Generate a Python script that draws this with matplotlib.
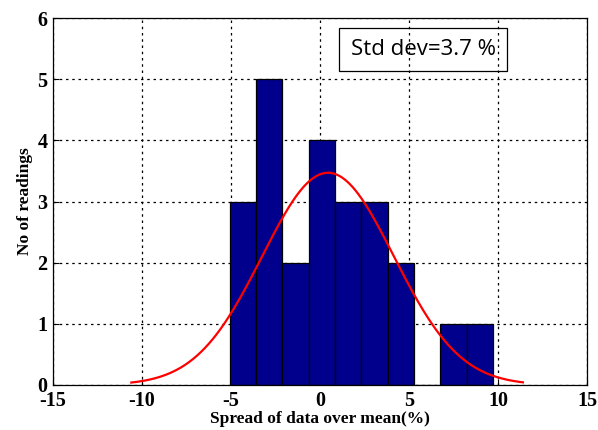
import numpy as np
import matplotlib

matplotlib.use("Agg")
import matplotlib.pyplot as plt

plt.rcParams["axes.unicode_minus"] = False

# histogram of spread over mean (%)
bin_edges = [-5.06, -3.58, -2.11, -0.63, 0.85, 2.32, 3.80, 5.28, 6.76, 8.24, 9.72]
counts = [3, 5, 2, 4, 3, 3, 2, 0, 1, 1]

# fitted normal curve, parameters
fit_mean = 0.45
fit_std = 3.7
fit_peak = 3.47
fit_range = (-10.6, 11.4)

x_ticks = [-15, -10, -5, 0, 5, 10, 15]
y_ticks = [0, 1, 2, 3, 4, 5, 6]

fig = plt.figure(figsize=(5.98, 4.30), dpi=100)
ax = fig.add_axes([53 / 598, 45 / 430, 534 / 598, 367 / 430])

widths = np.diff(bin_edges)
ax.bar(bin_edges[:-1], counts, width=widths, align="edge",
       color="#00008C", edgecolor="black", linewidth=0.9, zorder=2)

xs = np.linspace(fit_range[0], fit_range[1], 300)
ys = fit_peak * np.exp(-((xs - fit_mean) ** 2) / (2 * fit_std ** 2))
ax.plot(xs, ys, color="red", linewidth=1.6, zorder=3)

ax.set_xlim(-15, 15)
ax.set_ylim(0, 6)
ax.set_xticks(x_ticks)
ax.set_yticks(y_ticks)
ax.grid(True, color="black", linestyle=(0, (2, 3)), linewidth=0.9, zorder=1)
ax.set_axisbelow(True)
ax.tick_params(direction="in", length=4, width=0.8)
ax.tick_params(axis="x", pad=4)
ax.tick_params(axis="y", pad=4)
for lab in ax.get_xticklabels() + ax.get_yticklabels():
    lab.set_fontfamily("Liberation Serif")
    lab.set_fontweight("bold")
    lab.set_fontsize(14.5)
for sp in ax.spines.values():
    sp.set_linewidth(0.9)

ax.set_xlabel("Spread of data over mean(%)", fontfamily="Liberation Serif",
              fontweight="bold", fontsize=12.5, labelpad=0)
ax.set_ylabel("No of readings", fontfamily="Liberation Serif",
              fontweight="bold", fontsize=12.5, labelpad=3)

ax.text(5.79, 5.48, "Std dev=3.7 %", fontfamily="Open Sans", fontsize=16,
        ha="center", va="center", zorder=4,
        bbox=dict(boxstyle="square,pad=0.5", facecolor="none",
                  edgecolor="black", linewidth=0.9))

fig.savefig("out.png", dpi=100)
